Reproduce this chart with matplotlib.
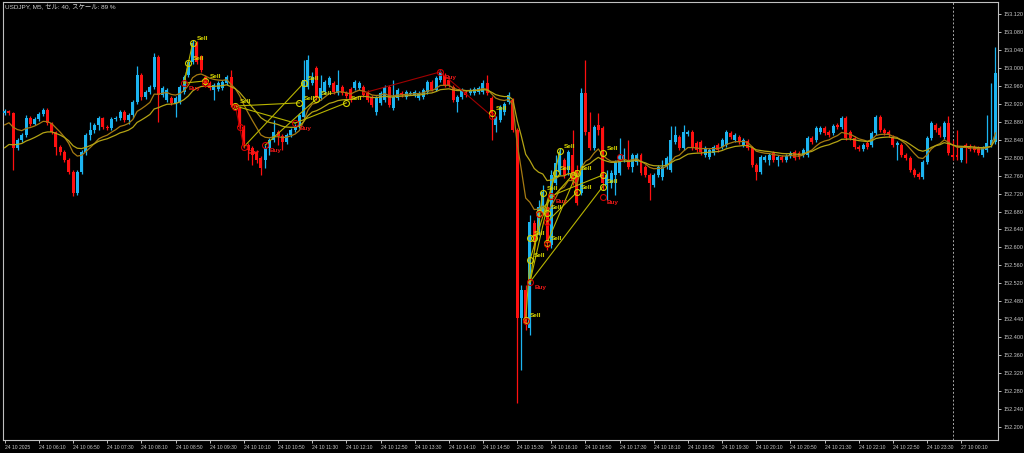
import matplotlib.pyplot as plt

# USDJPY M5 candles, 24 10 05:30 .. 27 10 00:50
opens = [
    152.899, 152.904, 152.899, 152.822, 152.839, 152.850, 152.888, 152.875, 152.886, 152.897,
    152.906, 152.877, 152.857, 152.824, 152.813, 152.795, 152.768, 152.721, 152.768, 152.813,
    152.850, 152.862, 152.873, 152.888, 152.868, 152.866, 152.886, 152.888, 152.902, 152.884,
    152.895, 152.924, 152.984, 152.935, 152.946, 152.957, 153.024, 152.940, 152.928, 152.933,
    152.922, 152.924, 152.946, 152.984, 153.013, 153.055, 153.024, 152.980, 152.966, 152.951,
    152.953, 152.955, 152.966, 152.980, 152.917, 152.911, 152.868, 152.828, 152.822, 152.813,
    152.799, 152.795, 152.822, 152.839, 152.857, 152.848, 152.835, 152.850, 152.862, 152.870,
    152.891, 152.957, 152.966, 153.000, 152.933, 152.946, 152.962, 152.966, 152.944, 152.957,
    152.944, 152.953, 152.955, 152.955, 152.957, 152.946, 152.935, 152.902, 152.922, 152.928,
    152.957, 152.911, 152.933, 152.944, 152.935, 152.942, 152.940, 152.933, 152.935, 152.946,
    152.969, 152.951, 152.973, 152.984, 152.973, 152.957, 152.924, 152.935, 152.946, 152.944,
    152.944, 152.946, 152.946, 152.966, 152.933, 152.873, 152.884, 152.902, 152.924, 152.928,
    152.862, 152.443, 152.505, 152.421, 152.654, 152.639, 152.677, 152.690, 152.605, 152.744,
    152.768, 152.795, 152.772, 152.806, 152.772, 152.721, 152.944, 152.857, 152.822, 152.873,
    152.866, 152.739, 152.744, 152.761, 152.766, 152.795, 152.795, 152.779, 152.790, 152.806,
    152.779, 152.761, 152.739, 152.761, 152.757, 152.779, 152.772, 152.835, 152.846, 152.822,
    152.853, 152.857, 152.833, 152.835, 152.806, 152.801, 152.810, 152.828, 152.824, 152.828,
    152.855, 152.839, 152.846, 152.828, 152.837, 152.822, 152.784, 152.768, 152.795, 152.795,
    152.810, 152.795, 152.801, 152.795, 152.804, 152.813, 152.810, 152.806, 152.806, 152.844,
    152.839, 152.857, 152.866, 152.857, 152.855, 152.873, 152.868, 152.888, 152.857, 152.844,
    152.824, 152.819, 152.833, 152.828, 152.855, 152.891, 152.862, 152.857, 152.846, 152.828,
    152.828, 152.806, 152.799, 152.772, 152.764, 152.757, 152.790, 152.844, 152.873, 152.866,
    152.846, 152.877, 152.806, 152.806, 152.795, 152.828, 152.826, 152.824, 152.822, 152.806,
    152.817, 152.828, 152.835,
]
highs = [
    152.908, 152.906, 152.902, 152.844, 152.855, 152.895, 152.893, 152.891, 152.902, 152.911,
    152.911, 152.879, 152.859, 152.828, 152.817, 152.799, 152.772, 152.772, 152.817, 152.855,
    152.879, 152.877, 152.893, 152.891, 152.873, 152.891, 152.893, 152.906, 152.906, 152.899,
    152.928, 153.004, 152.989, 152.951, 152.962, 153.033, 153.029, 152.960, 152.955, 152.937,
    152.937, 152.962, 152.984, 153.018, 153.062, 153.060, 153.029, 152.984, 152.971, 152.966,
    152.971, 152.973, 152.984, 152.995, 152.922, 152.915, 152.873, 152.833, 152.826, 152.817,
    152.804, 152.828, 152.844, 152.884, 152.862, 152.853, 152.855, 152.866, 152.875, 152.899,
    153.018, 153.029, 152.991, 153.004, 152.984, 152.973, 152.982, 152.971, 152.995, 152.962,
    152.948, 152.957, 152.973, 152.971, 152.962, 152.951, 152.940, 152.937, 152.948, 152.962,
    152.962, 152.973, 152.955, 152.948, 152.951, 152.948, 152.951, 152.948, 152.955, 152.973,
    152.973, 152.982, 152.995, 152.989, 152.977, 152.962, 152.940, 152.955, 152.951, 152.955,
    152.957, 152.960, 152.973, 152.984, 152.937, 152.893, 152.917, 152.924, 152.946, 152.933,
    152.866, 152.516, 152.516, 152.672, 152.661, 152.706, 152.739, 152.706, 152.772, 152.806,
    152.822, 152.799, 152.817, 152.862, 152.784, 152.955, 153.018, 152.902, 152.873, 152.899,
    152.870, 152.772, 152.772, 152.795, 152.844, 152.822, 152.839, 152.810, 152.810, 152.810,
    152.784, 152.766, 152.766, 152.784, 152.795, 152.804, 152.870, 152.870, 152.850, 152.873,
    152.862, 152.862, 152.837, 152.839, 152.826, 152.822, 152.828, 152.833, 152.844, 152.862,
    152.859, 152.855, 152.850, 152.844, 152.842, 152.826, 152.788, 152.806, 152.806, 152.810,
    152.815, 152.806, 152.806, 152.808, 152.815, 152.817, 152.815, 152.822, 152.848, 152.848,
    152.870, 152.870, 152.870, 152.862, 152.875, 152.877, 152.893, 152.893, 152.862, 152.848,
    152.828, 152.833, 152.837, 152.859, 152.895, 152.895, 152.866, 152.862, 152.850, 152.837,
    152.833, 152.810, 152.804, 152.777, 152.768, 152.795, 152.848, 152.882, 152.877, 152.870,
    152.882, 152.893, 152.839, 152.862, 152.826, 152.833, 152.830, 152.828, 152.826, 152.826,
    152.895, 152.966, 153.047,
]
lows = [
    152.895, 152.895, 152.772, 152.817, 152.835, 152.846, 152.870, 152.873, 152.882, 152.893,
    152.873, 152.853, 152.806, 152.806, 152.790, 152.764, 152.715, 152.717, 152.764, 152.806,
    152.839, 152.855, 152.862, 152.864, 152.862, 152.862, 152.882, 152.884, 152.879, 152.875,
    152.888, 152.920, 152.928, 152.931, 152.942, 152.953, 152.879, 152.935, 152.924, 152.917,
    152.891, 152.920, 152.942, 152.980, 153.009, 153.009, 152.991, 152.957, 152.951, 152.928,
    152.948, 152.951, 152.962, 152.913, 152.906, 152.864, 152.822, 152.795, 152.784, 152.788,
    152.761, 152.777, 152.806, 152.835, 152.828, 152.817, 152.830, 152.846, 152.857, 152.866,
    152.886, 152.953, 152.962, 152.928, 152.928, 152.942, 152.957, 152.942, 152.940, 152.940,
    152.933, 152.924, 152.951, 152.951, 152.935, 152.924, 152.913, 152.895, 152.917, 152.924,
    152.913, 152.906, 152.928, 152.935, 152.931, 152.940, 152.935, 152.928, 152.931, 152.942,
    152.948, 152.948, 152.969, 152.957, 152.957, 152.924, 152.902, 152.931, 152.935, 152.940,
    152.940, 152.942, 152.942, 152.940, 152.839, 152.857, 152.879, 152.895, 152.920, 152.857,
    152.253, 152.327, 152.416, 152.405, 152.594, 152.628, 152.672, 152.594, 152.599, 152.739,
    152.761, 152.755, 152.761, 152.739, 152.695, 152.717, 152.850, 152.817, 152.817, 152.850,
    152.728, 152.706, 152.732, 152.717, 152.761, 152.790, 152.775, 152.768, 152.784, 152.761,
    152.757, 152.706, 152.735, 152.757, 152.750, 152.775, 152.768, 152.830, 152.817, 152.817,
    152.848, 152.817, 152.813, 152.806, 152.801, 152.797, 152.806, 152.813, 152.819, 152.824,
    152.842, 152.835, 152.830, 152.824, 152.817, 152.779, 152.750, 152.764, 152.790, 152.784,
    152.790, 152.781, 152.790, 152.790, 152.799, 152.795, 152.797, 152.801, 152.801, 152.830,
    152.835, 152.853, 152.850, 152.846, 152.850, 152.864, 152.864, 152.839, 152.839, 152.819,
    152.815, 152.815, 152.819, 152.824, 152.850, 152.857, 152.850, 152.846, 152.824, 152.795,
    152.801, 152.795, 152.768, 152.757, 152.752, 152.752, 152.786, 152.839, 152.857, 152.846,
    152.842, 152.806, 152.795, 152.795, 152.790, 152.788, 152.815, 152.813, 152.806, 152.801,
    152.813, 152.824, 152.830,
]
closes = [
    152.904, 152.899, 152.822, 152.839, 152.850, 152.888, 152.875, 152.886, 152.897, 152.906,
    152.877, 152.857, 152.824, 152.813, 152.795, 152.768, 152.721, 152.768, 152.813, 152.850,
    152.862, 152.873, 152.888, 152.868, 152.866, 152.886, 152.888, 152.902, 152.884, 152.895,
    152.924, 152.984, 152.935, 152.946, 152.957, 153.024, 152.940, 152.955, 152.951, 152.922,
    152.933, 152.957, 152.980, 153.013, 153.055, 153.013, 152.995, 152.962, 152.955, 152.962,
    152.966, 152.969, 152.980, 152.917, 152.911, 152.868, 152.828, 152.817, 152.806, 152.795,
    152.777, 152.822, 152.839, 152.857, 152.848, 152.835, 152.850, 152.862, 152.870, 152.895,
    152.973, 153.018, 152.980, 152.933, 152.955, 152.969, 152.977, 152.946, 152.962, 152.944,
    152.937, 152.928, 152.969, 152.966, 152.940, 152.928, 152.917, 152.933, 152.944, 152.957,
    152.917, 152.935, 152.951, 152.940, 152.946, 152.944, 152.946, 152.944, 152.951, 152.969,
    152.951, 152.977, 152.991, 152.962, 152.962, 152.928, 152.935, 152.951, 152.940, 152.951,
    152.953, 152.955, 152.966, 152.944, 152.899, 152.888, 152.913, 152.920, 152.940, 152.862,
    152.443, 152.505, 152.432, 152.657, 152.612, 152.690, 152.724, 152.610, 152.761, 152.788,
    152.813, 152.761, 152.813, 152.750, 152.699, 152.944, 152.857, 152.822, 152.868, 152.862,
    152.744, 152.761, 152.766, 152.790, 152.806, 152.806, 152.779, 152.806, 152.806, 152.766,
    152.761, 152.744, 152.761, 152.779, 152.779, 152.799, 152.839, 152.850, 152.822, 152.857,
    152.857, 152.822, 152.817, 152.813, 152.822, 152.817, 152.824, 152.817, 152.839, 152.857,
    152.846, 152.850, 152.835, 152.839, 152.822, 152.784, 152.768, 152.801, 152.801, 152.806,
    152.795, 152.801, 152.795, 152.804, 152.810, 152.799, 152.801, 152.817, 152.844, 152.835,
    152.866, 152.866, 152.855, 152.850, 152.870, 152.868, 152.888, 152.844, 152.844, 152.824,
    152.819, 152.828, 152.824, 152.855, 152.891, 152.862, 152.855, 152.850, 152.828, 152.833,
    152.806, 152.799, 152.772, 152.761, 152.757, 152.790, 152.844, 152.877, 152.862, 152.850,
    152.877, 152.810, 152.801, 152.801, 152.822, 152.822, 152.819, 152.817, 152.810, 152.822,
    152.833, 152.839, 152.989,
]

# one label every 8 bars (40 minutes)
time_labels = [
    "24 10 2025", "24 10 06:10", "24 10 06:50", "24 10 07:30", "24 10 08:10",
    "24 10 08:50", "24 10 09:30", "24 10 10:10", "24 10 10:50", "24 10 11:30",
    "24 10 12:10", "24 10 12:50", "24 10 13:30", "24 10 14:10", "24 10 14:50",
    "24 10 15:30", "24 10 16:10", "24 10 16:50", "24 10 17:30", "24 10 18:10",
    "24 10 18:50", "24 10 19:30", "24 10 20:10", "24 10 20:50", "24 10 21:30",
    "24 10 22:10", "24 10 22:50", "24 10 23:30", "27 10 00:10",
]
price_ticks = [
    152.200, 152.240, 152.280, 152.320, 152.360, 152.400, 152.440, 152.480,
    152.520, 152.560, 152.600, 152.640, 152.680, 152.720, 152.760, 152.800,
    152.840, 152.880, 152.920, 152.960, 153.000, 153.040, 153.080, 153.120,
]
monday_bar = 222

# EA signals: (bar, price, kind)  S=sell, B=buy, y/r = circle only
signals = [
    (44, 153.055, "S"), (43, 153.011, "S"), (42, 152.966, "B"),
    (47, 152.971, "S"), (47, 152.966, "r"),
    (54, 152.915, "S"), (54, 152.913, "r"), (55, 152.868, "r"), (56, 152.824, "B"),
    (61, 152.828, "B"), (68, 152.877, "B"), (69, 152.922, "S"), (70, 152.966, "S"),
    (73, 152.931, "S"), (80, 152.922, "S"), (102, 152.991, "B"),
    (114, 152.899, "S"), (114, 152.893, "r"),
    (122, 152.438, "S"), (122, 152.436, "r"), (123, 152.523, "B"),
    (123, 152.572, "S"), (123, 152.621, "S"), (124, 152.621, "y"),
    (127, 152.610, "S"), (127, 152.608, "r"), (125, 152.677, "y"), (125, 152.674, "r"),
    (127, 152.677, "S"), (127, 152.657, "r"), (126, 152.721, "S"), (128, 152.715, "B"),
    (129, 152.766, "S"), (130, 152.815, "S"), (133, 152.761, "y"), (134, 152.766, "S"),
    (134, 152.723, "S"),
    (140, 152.810, "S"), (140, 152.761, "y"), (140, 152.735, "S"), (140, 152.712, "B"),
    (144, 152.801, "r"),
]
# trade lines: (bar1, price1, bar2, price2, colour kind)
trades = [
    (42, 152.966, 44, 153.055, "y"), (42, 152.966, 43, 153.011, "y"),
    (42, 152.966, 47, 152.971, "y"),
    (54, 152.915, 69, 152.922, "y"), (54, 152.915, 68, 152.877, "y"),
    (56, 152.824, 70, 152.966, "y"), (61, 152.828, 73, 152.931, "y"),
    (68, 152.877, 80, 152.922, "y"),
    (54, 152.915, 55, 152.868, "r"), (55, 152.868, 56, 152.824, "r"),
    (84, 152.944, 102, 152.991, "r"), (102, 152.991, 114, 152.893, "r"),
    (123, 152.523, 140, 152.735, "y"), (123, 152.523, 130, 152.815, "y"),
    (123, 152.523, 126, 152.721, "y"), (122, 152.438, 123, 152.572, "y"),
    (123, 152.572, 129, 152.766, "y"), (125, 152.677, 133, 152.761, "y"),
    (127, 152.657, 134, 152.723, "y"), (128, 152.715, 140, 152.761, "y"),
    (127, 152.610, 134, 152.766, "y"),
]
fast_start, slow_start = 152.873, 152.822

BLUE = "#1cb4f0"
RED = "#ff1010"
GREY = "#c0c0c0"


def ema(values, span, start):
    a = 2.0 / (span + 1)
    out = [start]
    for v in values[1:]:
        out.append(out[-1] + a * (v - out[-1]))
    return out


plt.rcParams["font.family"] = ["Liberation Sans", "Noto Sans CJK JP", "DejaVu Sans"]

fig = plt.figure(figsize=(10.24, 4.53), dpi=100, facecolor="black")
ax = fig.add_axes([3 / 1024, 13 / 453, 995 / 1024, 438 / 453])
ax.set_facecolor("black")

n = len(closes)
bars = list(range(n))
cols = [BLUE if c >= o else RED for o, c in zip(opens, closes)]
ax.vlines(bars, lows, highs, colors=cols, linewidth=0.9, zorder=2)
bottoms = [min(o, c) for o, c in zip(opens, closes)]
heights = [max(abs(c - o), 0.0012) for o, c in zip(opens, closes)]
ax.bar(bars, heights, bottom=bottoms, width=0.7, color=cols, linewidth=0, zorder=3)

ax.plot(bars, ema(closes, 10, fast_start), color="#a57a12", linewidth=0.9, zorder=4)
ax.plot(bars, ema(closes, 20, slow_start), color="#b4a414", linewidth=0.9, zorder=4)

for b1, p1, b2, p2, k in trades:
    ax.plot([b1, b2], [p1, p2], color="#b8b400" if k == "y" else "#a00000",
            linewidth=0.8, zorder=5)

for b, p, k in signals:
    edge = "#d2d200" if k in ("S", "y") else "#d00000"
    ax.plot(b, p, "o", markersize=4.3, markerfacecolor="none",
            markeredgecolor=edge, markeredgewidth=0.8, zorder=6)
    if k == "S":
        ax.annotate("Sell", (b, p), xytext=(3, 3.5), textcoords="offset points",
                    color="#d8d800", fontsize=4.6, fontweight="bold",
                    ha="left", va="center", zorder=7)
    elif k == "B":
        ax.annotate("Buy", (b, p), xytext=(3, -4), textcoords="offset points",
                    color="#f01818", fontsize=4.6, fontweight="bold",
                    ha="left", va="center", zorder=7)

ax.axvline(monday_bar, color="#a8a8a8", linewidth=0.7, linestyle=(0, (2, 2)), zorder=1)

ax.set_xlim(-0.4, 232.6)
ax.set_ylim(152.171, 153.1467)

ax.yaxis.tick_right()
ax.set_yticks(price_ticks)
ax.set_yticklabels(["%.3f" % t for t in price_ticks])
ax.set_xticks(list(range(0, 8 * len(time_labels), 8)))
ax.set_xticklabels(time_labels)
for lbl in ax.get_xticklabels():
    lbl.set_ha("left")
ax.tick_params(axis="both", colors=GREY, labelcolor="#c8c8c8",
               length=2.5, width=0.7, direction="out")
ax.tick_params(axis="x", pad=0.8, labelsize=3.6)
ax.tick_params(axis="y", pad=1.8, labelsize=4.0)

for s in ax.spines.values():
    s.set_color(GREY)
    s.set_linewidth(0.8)

fig.text(5 / 1024, 1 - 7 / 453, "USDJPY, M5, セル: 40, スケール: 89 %",
         color="#d0d0d0", fontsize=4.6, ha="left", va="center")

fig.savefig("out.png", dpi=100, facecolor="black")
